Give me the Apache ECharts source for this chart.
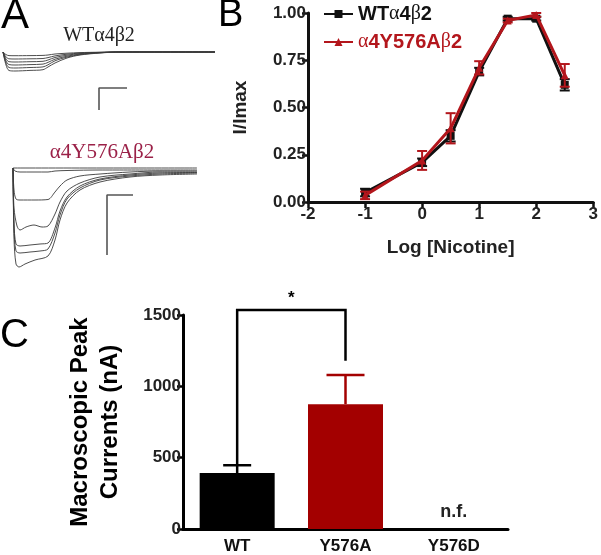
<!DOCTYPE html>
<html>
<head>
<meta charset="utf-8">
<script src="https://cdn.jsdelivr.net/npm/echarts@6/dist/echarts.min.js"></script>
<style>
  html, body { margin: 0; padding: 0; background: #fff; }
  #chart { width: 601px; height: 555px; }
</style>
</head>
<body>
<div id="chart"></div>
<script>
// ---------- panel A: whole-cell current traces (time, current; arbitrary units) ----------
const wtTraces = [
  [[3,0],[6,-2.6],[9,-3.6],[15,-3.7],[30,-3.6],[43,-3.4],[48,-3],[55,-2],[67,-1.2],[80,-0.6],[100,-0.2],[120,0],[215,0]],
  [[3,0],[6,-4.9],[9,-6.8],[15,-7],[30,-6.8],[43,-6.5],[48,-5.6],[55,-3.9],[67,-2.2],[80,-1.1],[100,-0.4],[120,0],[215,0]],
  [[3,0],[6,-7],[9,-9.7],[15,-10],[30,-9.7],[43,-9.3],[48,-8],[55,-5.5],[67,-3.2],[80,-1.6],[100,-0.5],[120,0],[215,0]],
  [[3,0],[6,-9],[9,-12.6],[15,-13],[30,-12.6],[43,-12.1],[48,-10.4],[55,-7.2],[67,-4.2],[80,-2.1],[100,-0.7],[120,0],[215,0]],
  [[3,0],[6,-11],[9,-15.5],[15,-16],[30,-15.5],[43,-14.9],[48,-12.8],[55,-8.8],[67,-5.1],[80,-2.6],[100,-0.8],[120,0],[215,0]],
  [[3,0],[6,-13],[9,-18.5],[15,-19],[30,-18.4],[43,-17.7],[48,-15],[55,-11],[67,-6],[80,-3],[100,-1],[120,0],[215,0]]
];
const mutTraces = [
  [[13,0],[197,0]],
  [[13,0],[15,-3],[20,-4],[48,-4],[55,-3],[67,-2.5],[100,-2],[197,-2]],
  [[13,0],[14,-22],[16,-31],[20,-32],[35,-32],[48,-31.5],[55,-24],[60,-18],[67,-12],[80,-8],[100,-6],[130,-4],[160,-3],[197,-3]],
  [[13,0],[14,-40],[17,-58],[20,-62],[26,-59],[34,-57],[42,-59],[48,-58],[55,-46],[60,-34],[67,-23],[80,-15],[100,-9],[130,-6],[160,-4],[197,-4]],
  [[13,0],[14,-55],[16,-76],[20,-78],[30,-77],[40,-76],[48,-75],[55,-60],[60,-43],[67,-29],[80,-18],[100,-11],[130,-7],[160,-5],[197,-4.5]],
  [[13,0],[14,-60],[16,-83],[20,-85],[30,-84],[40,-83],[48,-81],[55,-65],[60,-47],[67,-31],[80,-20],[100,-12],[130,-8],[160,-6],[197,-5]],
  [[13,0],[14,-70],[16,-96],[19,-99],[25,-96],[35,-92],[48,-88],[55,-72],[60,-52],[67,-35],[80,-22],[100,-14],[130,-9],[160,-7],[197,-6]]
];
const wtScaleBar = [[127,-36],[99,-36],[99,-58]];
const mutScaleBar = [[133,-27],[107,-27],[107,-87]];

// ---------- panel B: concentration-response ----------
const logNic = [-1, 0, 0.5, 1, 1.5, 2, 2.5];
const wtMean = [0.05, 0.21, 0.35, 0.69, 0.97, 0.97, 0.62];
const wtSem = [0.02, 0.02, 0.03, 0.02, 0.01, 0.01, 0.03];
const mutMean = [0.035, 0.22, 0.39, 0.71, 0.96, 0.99, 0.67];
const mutSem = [0.02, 0.05, 0.08, 0.035, 0.01, 0.01, 0.06];

// ---------- panel C: macroscopic peak currents ----------
const constructs = ['WT', 'Y576A', 'Y576D'];
const peakMean = [392, 875, 0];
const peakSem = [55, 205, 0];
const peakNote = ['', '', 'n.f.'];
const sigBracket = [[0, 1, 447, 1535, 1179]]; // from, to, left foot, top, right foot

const BLACK = '#111';
const RED = '#b3161c';
const BAR_RED = '#a30000';
const SANS = 'Liberation Sans, Arial, sans-serif';
const SERIF = 'Liberation Serif, Times New Roman, serif';

const chart = echarts.init(document.getElementById('chart'));

const traceSeries = (traces, gi) => traces.map(d => ({
  type: 'line', xAxisIndex: gi, yAxisIndex: gi, data: d,
  symbol: 'none', smooth: 0.3, silent: true,
  lineStyle: { color: '#3a3a3a', width: 0.9 }
}));
const scaleSeries = (d, gi) => ({
  type: 'line', xAxisIndex: gi, yAxisIndex: gi, data: d,
  symbol: 'none', silent: true, lineStyle: { color: '#555', width: 1.6 }
});

function errB(color) {
  return function (params, api) {
    const x = api.value(0);
    const lo = api.coord([x, api.value(1)]);
    const hi = api.coord([x, api.value(2)]);
    const w = 5;
    const st = { stroke: color, lineWidth: 2 };
    return { type: 'group', children: [
      { type: 'line', shape: { x1: lo[0], y1: lo[1], x2: hi[0], y2: hi[1] }, style: st },
      { type: 'line', shape: { x1: hi[0] - w, y1: hi[1], x2: hi[0] + w, y2: hi[1] }, style: st },
      { type: 'line', shape: { x1: lo[0] - w, y1: lo[1], x2: lo[0] + w, y2: lo[1] }, style: st }
    ] };
  };
}

const greek = name => name.replace(/([αβ])/g, '{g|$1}');

chart.setOption({
  animation: false,
  textStyle: { fontFamily: SANS },
  graphic: [
    { type: 'text', left: 1, top: -5, style: { text: 'A', fontSize: 42, fontFamily: SANS, fill: '#000' } },
    { type: 'text', left: 218, top: -3, style: { text: 'B', fontSize: 38, fontFamily: SANS, fill: '#000' } },
    { type: 'text', left: 0, top: 316, style: { text: 'C', fontSize: 40, fontFamily: SANS, fill: '#000' } },
    { type: 'text', x: 99, y: 36, style: { text: 'WTα4β2', fontSize: 20, fontFamily: SERIF, fill: '#222', align: 'center', verticalAlign: 'middle' } },
    { type: 'text', x: 102, y: 152, style: { text: 'α4Y576Aβ2', fontSize: 21, fontFamily: SERIF, fill: '#9b2148', align: 'center', verticalAlign: 'middle' } }
  ],
  legend: {
    left: 323, top: 4, orient: 'vertical', padding: 0,
    itemWidth: 29, itemHeight: 10, itemGap: 8,
    formatter: greek,
    textStyle: {
      fontSize: 20, fontWeight: 'bold', lineHeight: 20, fontFamily: SANS,
      rich: { g: { fontFamily: SERIF, fontWeight: 'normal', fontSize: 20 } }
    },
    data: [
      { name: 'WTα4β2', textStyle: { color: BLACK } },
      { name: 'α4Y576Aβ2', textStyle: { color: RED } }
    ]
  },
  grid: [
    { left: 0, top: 40, width: 215, height: 80 },
    { left: 0, top: 150, width: 200, height: 130 },
    { left: 308, top: 13, width: 288, height: 189 },
    { left: 183, top: 315, width: 325, height: 215 }
  ],
  xAxis: [
    { gridIndex: 0, type: 'value', min: 0, max: 215, show: false },
    { gridIndex: 1, type: 'value', min: 0, max: 200, show: false },
    {
      gridIndex: 2, type: 'value', min: -2, max: 3, interval: 1,
      name: 'Log [Nicotine]', nameLocation: 'middle', nameGap: 36,
      nameTextStyle: { fontSize: 19, fontWeight: 'bold', color: '#222' },
      axisLine: { onZero: false, lineStyle: { color: BLACK, width: 3 } },
      axisTick: { length: 6, lineStyle: { width: 2.5, color: BLACK } },
      axisLabel: { fontSize: 17, fontWeight: 'bold', color: '#222', margin: 4 },
      splitLine: { show: false }
    },
    {
      gridIndex: 3, type: 'category', data: constructs,
      axisLine: { onZero: false, lineStyle: { color: '#000', width: 3 } },
      axisTick: { alignWithLabel: true, length: 6, lineStyle: { width: 2.5, color: '#000' } },
      axisLabel: { fontSize: 17, fontWeight: 'bold', color: '#111', margin: 9 }
    }
  ],
  yAxis: [
    { gridIndex: 0, type: 'value', min: -68, max: 12, show: false },
    { gridIndex: 1, type: 'value', min: -112, max: 18, show: false },
    {
      gridIndex: 2, type: 'value', min: 0, max: 1, interval: 0.25,
      name: 'I/Imax', nameLocation: 'middle', nameGap: 58,
      nameTextStyle: { fontSize: 19, fontWeight: 'bold', color: '#222' },
      axisLine: { show: true, onZero: false, lineStyle: { color: BLACK, width: 3 } },
      axisTick: { show: true, length: 6, lineStyle: { width: 2.5, color: BLACK } },
      axisLabel: { fontSize: 17, fontWeight: 'bold', color: '#222', margin: 2, formatter: v => v.toFixed(2) },
      splitLine: { show: false }
    },
    {
      gridIndex: 3, type: 'value', min: 0, max: 1500, interval: 500,
      name: 'Macroscopic Peak\nCurrents (nA)', nameLocation: 'middle', nameGap: 58,
      nameTextStyle: { fontSize: 24, fontWeight: 'bold', color: '#000', lineHeight: 30 },
      axisLine: { show: true, onZero: false, lineStyle: { color: '#000', width: 3 } },
      axisTick: { show: true, length: 6, lineStyle: { width: 2.5, color: '#000' } },
      axisLabel: { fontSize: 17, fontWeight: 'bold', color: '#222', margin: 2, formatter: v => String(v) },
      splitLine: { show: false }
    }
  ],
  series: [
    ...traceSeries(wtTraces, 0),
    scaleSeries(wtScaleBar, 0),
    ...traceSeries(mutTraces, 1),
    scaleSeries(mutScaleBar, 1),

    {
      type: 'custom', xAxisIndex: 2, yAxisIndex: 2, silent: true, z: 3,
      renderItem: errB(BLACK),
      data: logNic.map((x, i) => [x, wtMean[i] - wtSem[i], wtMean[i] + wtSem[i]])
    },
    {
      name: 'WTα4β2', type: 'line', xAxisIndex: 2, yAxisIndex: 2, z: 4,
      data: logNic.map((x, i) => [x, wtMean[i]]),
      symbol: 'rect', symbolSize: 8,
      itemStyle: { color: BLACK }, lineStyle: { color: BLACK, width: 3 }
    },
    {
      type: 'custom', xAxisIndex: 2, yAxisIndex: 2, silent: true, z: 5,
      renderItem: errB(RED),
      data: logNic.map((x, i) => [x, mutMean[i] - mutSem[i], mutMean[i] + mutSem[i]])
    },
    {
      name: 'α4Y576Aβ2', type: 'line', xAxisIndex: 2, yAxisIndex: 2, z: 6,
      data: logNic.map((x, i) => [x, mutMean[i]]),
      symbol: 'triangle', symbolSize: 8,
      itemStyle: { color: RED }, lineStyle: { color: RED, width: 3 }
    },

    {
      type: 'bar', xAxisIndex: 3, yAxisIndex: 3, barWidth: 75, z: 3,
      data: peakMean.map((v, i) => ({
        value: v,
        itemStyle: { color: i === 0 ? '#000' : BAR_RED },
        label: {
          show: peakNote[i] !== '', position: 'top', distance: 8,
          formatter: peakNote[i], fontSize: 18, fontWeight: 'bold', color: '#222'
        }
      }))
    },
    {
      type: 'custom', xAxisIndex: 3, yAxisIndex: 3, silent: true, z: 2, clip: false,
      data: peakMean.map((v, i) => [i, v, peakSem[i]]).filter(d => d[2] > 0),
      renderItem: (params, api) => {
        const i = api.value(0);
        const base = api.coord([i, api.value(1)]);
        const top = api.coord([i, api.value(1) + api.value(2)]);
        const color = i === 0 ? '#000' : BAR_RED;
        const st = { stroke: color, lineWidth: 2.5 };
        const w = i === 0 ? 14 : 19;
        return { type: 'group', children: [
          { type: 'line', shape: { x1: base[0], y1: base[1], x2: top[0], y2: top[1] }, style: st },
          { type: 'line', shape: { x1: top[0] - w, y1: top[1], x2: top[0] + w, y2: top[1] }, style: st }
        ] };
      }
    },
    {
      type: 'custom', xAxisIndex: 3, yAxisIndex: 3, silent: true, z: 4, clip: false,
      data: sigBracket,
      renderItem: (params, api) => {
        const a = api.coord([api.value(0), api.value(2)]);
        const t1 = api.coord([api.value(0), api.value(3)]);
        const t2 = api.coord([api.value(1), api.value(3)]);
        const b = api.coord([api.value(1), api.value(4)]);
        return { type: 'group', children: [
          { type: 'polyline', shape: { points: [a, t1, t2, b] }, style: { stroke: '#000', lineWidth: 2.5, fill: null } },
          { type: 'text', x: (t1[0] + t2[0]) / 2, y: t1[1] - 3,
            style: { text: '*', fontSize: 17, fontWeight: 'bold', fontFamily: SANS, fill: '#000', align: 'center', verticalAlign: 'bottom' } }
        ] };
      }
    }
  ]
});
</script>
</body>
</html>
